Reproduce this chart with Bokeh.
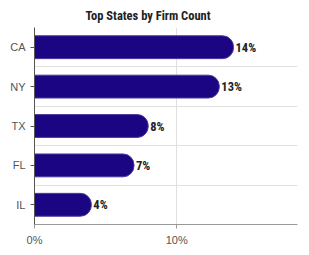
from bokeh.plotting import figure
from bokeh.models import ColumnDataSource, FixedTicker, Range1d
from bokeh.core.properties import value
from bokeh.embed import file_html
from bokeh.resources import INLINE

states = ["CA", "NY", "TX", "FL", "IL"]
shares = [14.0, 13.0, 8.0, 7.0, 4.0]
share_labels = ["14%", "13%", "8%", "7%", "4%"]
x_ticks = [0, 10]
x_tick_labels = ["0%", "10%"]

n = len(states)
ypos = [n - 1 - i for i in range(n)]

src = ColumnDataSource(dict(y=ypos, v=shares, lab=share_labels, st=states))

p = figure(width=309, height=255, output_backend="svg", toolbar_location=None,
           x_range=Range1d(0, 18.5), y_range=Range1d(-0.5, n - 0.5),
           min_border_left=34, min_border_right=12, min_border_top=27,
           min_border_bottom=31, title="Top States by Firm Count")
p.outline_line_color = None
p.background_fill_color = "white"
p.border_fill_color = "white"

p.title.align = "left"
p.title.offset = 51
p.title.text_font = "Roboto Condensed"
p.title.text_font_size = "12.5px"
p.title.text_font_style = "bold"
p.title.text_color = "#222222"

p.hbar(y="y", right="v", left=0, height=0.58, source=src,
       fill_color="#1b0583", line_color="#4a3a9c", line_width=1,
       border_radius=(0, 11, 11, 0))

p.text(x="v", y="y", text="lab", source=src, x_offset=2,
       text_baseline="middle", text_align="left",
       text_font=value("Roboto Condensed"),
       text_font_style="bold", text_font_size="12.5px", text_color="#222222")

# axes
p.xaxis.ticker = FixedTicker(ticks=x_ticks)
p.xaxis.major_label_overrides = {t: l for t, l in zip(x_ticks, x_tick_labels)}
p.xaxis.minor_tick_line_color = None
p.xaxis.axis_line_color = "#999999"
p.xaxis.major_tick_line_color = "#999999"
p.xaxis.major_tick_out = 4
p.xaxis.major_tick_in = 0
p.xaxis.major_label_text_font = "Liberation Sans"
p.xaxis.major_label_text_font_size = "11px"
p.xaxis.major_label_text_color = "#555555"

p.yaxis.ticker = FixedTicker(ticks=ypos)
p.yaxis.major_label_overrides = {y: s for y, s in zip(ypos, states)}
p.yaxis.minor_tick_line_color = None
p.yaxis.axis_line_color = "#555555"
p.yaxis.major_tick_line_color = "#555555"
p.yaxis.major_tick_out = 4
p.yaxis.major_tick_in = 0
p.yaxis.major_label_text_font = "Liberation Sans"
p.yaxis.major_label_text_font_size = "11px"
p.yaxis.major_label_text_color = "#555555"

p.xgrid.ticker = FixedTicker(ticks=[10])
p.xgrid.grid_line_color = "#e0e0e0"
p.ygrid.ticker = FixedTicker(ticks=[i + 0.5 for i in range(n - 1)])
p.ygrid.grid_line_color = "#e0e0e0"

open("out.html", "w").write(file_html(p, INLINE))
